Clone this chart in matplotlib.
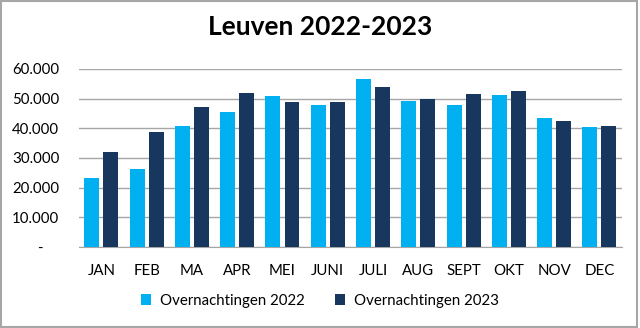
import numpy as np
import matplotlib.pyplot as plt
from matplotlib.patches import Rectangle

months = ["JAN", "FEB", "MA", "APR", "MEI", "JUNI", "JULI", "AUG", "SEPT", "OKT", "NOV", "DEC"]
nights_2022 = [23200, 26200, 40700, 45600, 50700, 47700, 56600, 49200, 48000, 51300, 43400, 40400]
nights_2023 = [32000, 38700, 47200, 52000, 48900, 49000, 54000, 49700, 51500, 52500, 42500, 40700]
yticks = [0, 10000, 20000, 30000, 40000, 50000, 60000]

c22 = "#00B0F0"
c23 = "#17375E"

plt.rcParams["font.family"] = ["Lato", "DejaVu Sans"]

fig = plt.figure(figsize=(6.4, 3.28), dpi=100)
ax = fig.add_axes([0.123, 0.247, 0.849, 0.543])

x = np.arange(len(months))
w = 0.33
ax.bar(x - 0.21, nights_2022, w, color=c22, label="Overnachtingen 2022", zorder=3)
ax.bar(x + 0.21, nights_2023, w, color=c23, label="Overnachtingen 2023", zorder=3)

ax.set_xlim(-0.5, len(months) - 0.5)
ax.set_ylim(0, 60000)
ax.set_yticks(yticks)
ax.set_yticklabels(["-    "] + [f"{v:,}".replace(",", ".") for v in yticks[1:]])
ax.set_xticks(x)
ax.set_xticklabels(months)
ax.tick_params(length=0, labelsize=10.8, colors="#000000")
ax.tick_params(axis="y", pad=14)
ax.tick_params(axis="x", pad=12)
ax.grid(axis="y", color="#A6A6A6", linewidth=1, zorder=0)
for s in ["top", "right", "left"]:
    ax.spines[s].set_visible(False)
ax.spines["bottom"].set_color("#A6A6A6")

fig.suptitle("Leuven 2022-2023", fontsize=19, fontweight="bold", y=0.955)
fig.legend(loc="center", bbox_to_anchor=(0.5, 0.083), ncol=2, frameon=False,
           fontsize=10.8, handlelength=0.7, handleheight=0.7, columnspacing=2.0,
           handletextpad=0.6)

fig.patches.append(Rectangle((0.002, 0.003), 0.994, 0.993, transform=fig.transFigure,
                             fill=False, edgecolor="#A6A6A6", linewidth=1.5))

fig.savefig("out.png", dpi=100)
